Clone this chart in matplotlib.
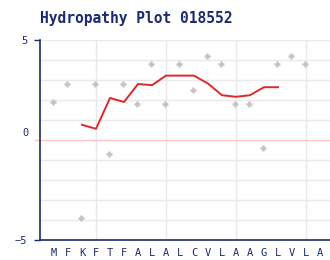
import matplotlib
matplotlib.use('Agg')
import matplotlib.pyplot as plt

# sequence and per-residue hydropathy (Kyte-Doolittle)
residues = list('MFKFTFALALCVLAAGLVLA')
hydro = [1.9, 2.8, -3.9, 2.8, -0.7, 2.8, 1.8, 3.8, 1.8, 3.8,
         2.5, 4.2, 3.8, 1.8, 1.8, -0.4, 3.8, 4.2, 3.8]
# window average curve
avg_pos = [3, 4, 5, 6, 7, 8, 9, 10, 11, 12, 13, 14, 15, 16, 17]
avg_val = [0.76, 0.56, 2.1, 1.9, 2.8, 2.74, 3.22, 3.22, 3.22, 2.82,
           2.24, 2.16, 2.24, 2.64, 2.64]

navy = '#1c2a6e'

fig = plt.figure(figsize=(3.3, 2.6), dpi=100)
ax = fig.add_axes([40 / 330, 20 / 260, 290 / 330, 200 / 260])

xmax = 290 / 14
ax.set_xlim(0, xmax)
ax.set_ylim(-5, 5)

# grid
for y in [-4, -3, -2, -1, 1, 2, 3, 4, 5]:
    ax.plot([0, xmax], [y, y], color='#e9e9e9', lw=1, zorder=1)
for x in [4, 9, 14, 19]:
    ax.plot([x, x], [-5, 5], color='#e9e9e9', lw=1, zorder=1)
ax.plot([-0.36, xmax], [0, 0], color='#ffc4c4', lw=1, clip_on=False, zorder=2)

# points and window curve
ax.plot([i + 1 - 0.1 for i in range(len(hydro))], hydro, linestyle='none',
        marker='+', ms=5, mew=1.8, color='#c4c4c4', zorder=3)
ax.plot(avg_pos, avg_val, color='#e02828', lw=1.4, zorder=4)

for s in ['top', 'right']:
    ax.spines[s].set_visible(False)
for s in ['left', 'bottom']:
    ax.spines[s].set_color(navy)
    ax.spines[s].set_linewidth(1.2)

ax.set_xticks(range(1, len(residues) + 1))
ax.set_xticklabels(residues, family='DejaVu Sans Mono', fontsize=7.5, color=navy)
ax.tick_params(axis='x', length=0, pad=6)
ax.set_yticks([5, -5])
ax.set_yticklabels(['5', '\u22125'], family='DejaVu Sans Mono', fontsize=7.5, color=navy)
ax.tick_params(axis='y', length=4, width=1.0, color=navy, pad=5)
ax.text(-0.8, 0.35, '0', ha='right', va='center', family='DejaVu Sans Mono',
        fontsize=7.5, color=navy)

fig.text(40 / 330, 1 - 18 / 260, 'Hydropathy Plot 018552', ha='left', va='center',
         family='DejaVu Sans Mono', fontweight='bold', fontsize=10.5, color=navy)

fig.savefig('out.png', dpi=100)
